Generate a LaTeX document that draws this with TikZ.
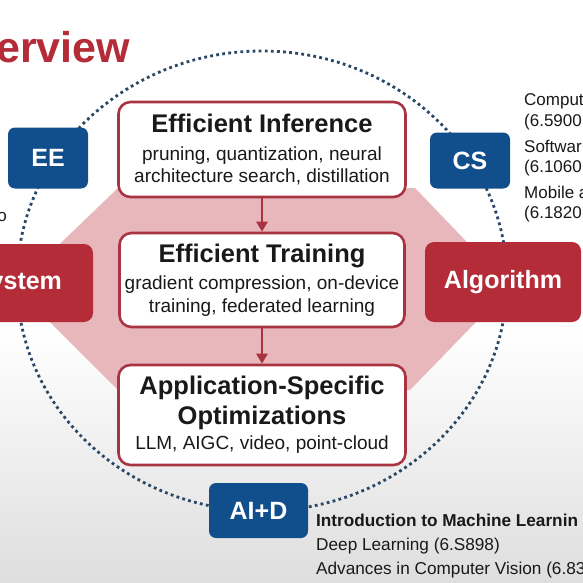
\documentclass[tikz,border=0pt]{standalone}
\usepackage{fontspec}
\setmainfont{Liberation Sans}
\usetikzlibrary{arrows.meta,shapes.geometric}
\definecolor{redC}{RGB}{180,44,56}
\definecolor{borderC}{RGB}{168,52,66}
\definecolor{pinkC}{RGB}{231,183,187}
\definecolor{blueC}{RGB}{16,78,140}
\definecolor{dotC}{RGB}{42,72,102}
\definecolor{textC}{RGB}{25,25,25}
\definecolor{grayC}{RGB}{222,222,222}
\newcommand\myttlfont{\fontsize{25.5}{30}\selectfont\bfseries}
\tikzset{
  mainbox/.style={draw=borderC, line width=2.6pt, fill=white, rounded corners=12pt,
    align=center, text=textC, inner sep=0pt, font=\fontsize{19}{22.5}\selectfont},
  bluebox/.style={fill=blueC, rounded corners=7pt, text=white, inner sep=0pt,
    font=\fontsize{25}{30}\selectfont\bfseries},
  redbox/.style={fill=redC, rounded corners=9pt, text=white, inner sep=0pt,
    font=\fontsize{25}{30}\selectfont\bfseries},
  flowarrow/.style={draw=borderC, line width=2.6pt, -{Triangle[width=11pt,length=10pt]}},
  dotring/.style={draw=dotC, line width=2.8pt, dash pattern=on 2.8pt off 3.3pt},
  sidetext/.style={anchor=base west, inner sep=0pt, text=textC, font=\fontsize{17}{20}\selectfont},
  bottomtext/.style={anchor=base west, inner sep=0pt, text=textC, font=\fontsize{17.2}{20}\selectfont}
}
\begin{document}
\begin{tikzpicture}[x=1pt,y=-1pt]
\useasboundingbox (0,0) rectangle (583,583);
\clip (0,0) rectangle (583,583);
% background
\fill[white] (0,0) rectangle (583,583);
\shade[top color=white, bottom color=grayC] (0,330) rectangle (583,583);
% title
\node[anchor=base west, inner sep=0pt, text=redC, font=\fontsize{43}{48}\selectfont\bfseries] (title) at (-4,63) {erview};
% pink hexagon
\fill[pinkC] (118,188) -- (415,188) -- (510,287) -- (410,390) -- (118,390) -- (15,287) -- cycle;
% dotted ring
\draw[dotring] (262,281) ellipse [x radius=245, y radius=230];
% main boxes
\node[mainbox, minimum width=287pt, minimum height=95pt] (inf) at (262,149.5)
  {{\myttlfont Efficient Inference}\\[5pt] pruning, quantization, neural\\ architecture search, distillation};
\node[mainbox, minimum width=285pt, minimum height=94pt] (train) at (262,280)
  {{\myttlfont Efficient Training}\\[5pt] gradient compression, on-device\\ training, federated learning};
\node[mainbox, minimum width=287pt, minimum height=100pt] (app) at (262,415)
  {{\myttlfont Application-Specific}\\[5pt] {\myttlfont Optimizations}\\[3pt] LLM, AIGC, video, point-cloud};
\draw[flowarrow] (inf.south) -- (train.north);
\draw[flowarrow] (train.south) -- (app.north);
% side boxes
\node[bluebox, minimum width=80pt, minimum height=61pt] (ee) at (48,158) {EE};
\node[bluebox, minimum width=80pt, minimum height=56pt] (cs) at (470,160.5) {CS};
\node[bluebox, minimum width=99pt, minimum height=55pt] (aid) at (258.5,510.5) {AI+D};
\node[redbox, minimum width=151pt, minimum height=78pt] (sys) at (17.5,283) {System};
\node[redbox, minimum width=156pt, minimum height=80pt] (alg) at (503,282) {Algorithm};
% right-side text
\node[sidetext] (r1) at (524,106) {Comput};
\node[sidetext] (r2) at (524,126) {(6.5900};
\node[sidetext] (r3) at (524,152) {Softwar};
\node[sidetext] (r4) at (524,172) {(6.1060|};
\node[sidetext] (r5) at (524,198) {Mobile a};
\node[sidetext] (r6) at (524,218) {(6.1820|};
% left fragment
\node[sidetext, anchor=base east] (l1) at (7,221) {o};
% bottom text
\node[bottomtext, font=\fontsize{17.2}{20}\selectfont\bfseries] (b1) at (316,526) {Introduction to Machine Learnin};
\node[bottomtext] (b2) at (316,550) {Deep Learning (6.S898)};
\node[bottomtext] (b3) at (316,574) {Advances in Computer Vision (6.83};
\end{tikzpicture}
\end{document}
